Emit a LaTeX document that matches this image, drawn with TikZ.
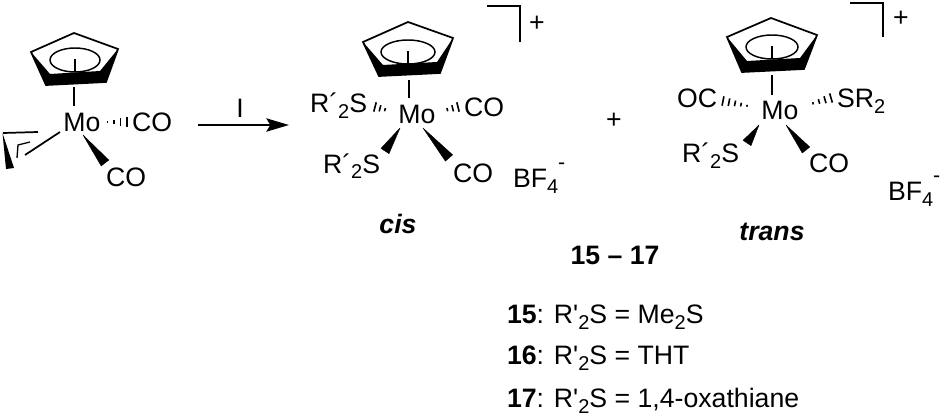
\documentclass[tikz,border=0pt]{standalone}
\usepackage{fontspec}
\setmainfont[Ligatures=TeXOff]{Liberation Sans}
\usetikzlibrary{arrows.meta,calc}
\tikzset{
 every node/.style={font=\fontsize{20}{22}\selectfont,inner sep=0pt,outer sep=0pt},
 bond/.style={line width=1.3pt,draw=black},
 wedgebond/.style={fill=black,draw=black,line width=.3pt,line join=round},
 tickbond/.style={line width=1.2pt},
 ringline/.style={line width=1.3pt,line join=miter},
 bracketline/.style={line width=1.3pt,line join=miter},
 lab/.style={anchor=base west}
}
% apex,left,right,frontleft,frontright,innerleft,innerright, ellipse centre, rx
\newcommand{\cpring}[9]{%
 \fill[black] #2 -- #6 -- #7 -- #3 -- #5 -- #4 -- cycle;
 \draw[ringline] #1 -- #2 -- #4 -- #5 -- #3 -- cycle;
 \draw[line width=1.1pt] #8 ellipse [x radius=#9,y radius=12];
 \draw[line width=1pt] #8 ++(0,-1) -- ++(0,13);
}
% wedge from narrow point A to wide end B
\newcommand{\wedgeb}[2]{%
 \fill[wedgebond] (#1) -- ($(#2)!3.6pt!90:(#1)$) -- ($(#2)!3.6pt!-90:(#1)$) -- cycle;
}
% hashed bond from narrow end A to wide end B, n ticks
\newcommand{\hashb}[3]{%
 \coordinate (hl) at ($(#2)!3.6pt!90:(#1)$);
 \coordinate (hr) at ($(#2)!3.6pt!-90:(#1)$);
 \foreach \k in {1,...,#3}{%
  \pgfmathsetmacro{\tt}{\k/#3}
  \draw[tickbond] ($(#1)!\tt!(hl)$) -- ($(#1)!\tt!(hr)$);
 }
}
\newcommand{\subd}[1]{\raisebox{-4.5pt}{\fontsize{15}{15}\selectfont #1}}
\newcommand{\minus}{\raisebox{13pt}{\fontsize{16}{16}\selectfont -}}
\begin{document}
\begin{tikzpicture}[x=.75pt,y=-.75pt]
\useasboundingbox (0,0) rectangle (945,417);
\fill[white] (0,0) rectangle (945,417);
%%% left complex
\cpring{(74,33)}{(31,52)}{(118,49)}{(46,85)}{(106,82)}{(50,74)}{(100,71)}{(75,60)}{25}
\node (moA) at (82,122) {Mo};
\node (coA) at (152,122) {CO};
\node (coB) at (126,177) {CO};
\coordinate (cpA) at (74,87);
\coordinate (cpAm) at (74,106);
\draw[bond] (cpA) -- (cpAm);
\coordinate (hA1) at (101,122);
\coordinate (hA2) at (127,122);
\hashb{hA1}{hA2}{4}
\coordinate (wA1) at (83,135);
\coordinate (wA2) at (105,163);
\wedgeb{wA1}{wA2}
\coordinate (alA) at (60,132);
\coordinate (alB) at (25,155);
\draw[bond] (alA) -- (alB);
\coordinate (al1) at (38,132);
\coordinate (al2) at (3,133);
\draw[bond] (al1) -- (al2);
\fill[black] (2.5,133) -- (14,168) -- (6,169) -- cycle;
\draw[line width=1pt] (30,142) -- (18,145) -- (17,158);
%%% arrow
\coordinate (arS) at (198,125);
\coordinate (arE) at (289,125);
\draw[line width=1.3pt,-{Stealth[length=17pt,width=10pt,inset=3pt]}] (arS) -- (arE);
\node (reag) at (240,108) {I};
%%% cis
\cpring{(408,22)}{(363,42)}{(453,38)}{(379,76)}{(440,73)}{(383,65)}{(437,62)}{(408,52)}{27}
\node (moB) at (417,114) {Mo};
\node[lab] (sB) at (310,113) {R´\subd{2}S};
\node (coC) at (484,107) {CO};
\node[lab] (sC) at (323,173) {R´\subd{2}S};
\node (coD) at (473,173) {CO};
\node[lab] (bfB) at (513,187) {BF\subd{4}\minus};
\coordinate (cpB) at (409,80);
\coordinate (cpBm) at (409,98);
\draw[bond] (cpB) -- (cpBm);
\coordinate (hB1) at (390,111);
\coordinate (hB2) at (375,107);
\hashb{hB1}{hB2}{3}
\coordinate (hB3) at (442,111);
\coordinate (hB4) at (458,107);
\hashb{hB3}{hB4}{3}
\coordinate (wB1) at (400,128);
\coordinate (wB2) at (385,151);
\wedgeb{wB1}{wB2}
\coordinate (wB3) at (423,128);
\coordinate (wB4) at (449,158);
\wedgeb{wB3}{wB4}
\coordinate (brB1) at (487,6);
\coordinate (brB2) at (520,6);
\coordinate (brB3) at (520,42);
\draw[bracketline] (brB1) -- (brB2) -- (brB3);
\node (plusB) at (537,24) {+};
\node (cis) at (398,224) {\bfseries\itshape cis};
%%% plus
\node (plusM) at (614,121) {+};
%%% trans
\cpring{(771,18)}{(727,37)}{(817,35)}{(742,72)}{(804,69)}{(747,61)}{(800,58)}{(772,47)}{26}
\node (moC) at (780,110) {Mo};
\node (ocE) at (697,98) {OC};
\node[lab] (sD) at (837,108) {SR\subd{2}};
\node[lab] (sE) at (682,162) {R´\subd{2}S};
\node (coF) at (829,163) {CO};
\node[lab] (bfC) at (888,200) {BF\subd{4}\minus};
\coordinate (cpC) at (772,75);
\coordinate (cpCm) at (772,95);
\draw[bond] (cpC) -- (cpCm);
\coordinate (hC1) at (753,107);
\coordinate (hC2) at (723,101);
\hashb{hC1}{hC2}{5}
\coordinate (hC3) at (807,105);
\coordinate (hC4) at (831,98);
\hashb{hC3}{hC4}{4}
\coordinate (wC1) at (759,125);
\coordinate (wC2) at (747,143);
\wedgeb{wC1}{wC2}
\coordinate (wC3) at (786,125);
\coordinate (wC4) at (806,150);
\wedgeb{wC3}{wC4}
\coordinate (brC1) at (850,3);
\coordinate (brC2) at (883,3);
\coordinate (brC3) at (883,37);
\draw[bracketline] (brC1) -- (brC2) -- (brC3);
\node (plusC) at (901,19) {+};
\node (trans) at (772,232) {\bfseries\itshape trans};
%%% legend
\node (range) at (615,255) {\bfseries 15 – 17};
\node[lab] (l15) at (507,323) {\textbf{15}: R'\subd{2}S = Me\subd{2}S};
\node[lab] (l16) at (507,364) {\textbf{16}: R'\subd{2}S = THT};
\node[lab] (l17) at (507,407) {\textbf{17}: R'\subd{2}S = 1,4-oxathiane};
\end{tikzpicture}
\end{document}
